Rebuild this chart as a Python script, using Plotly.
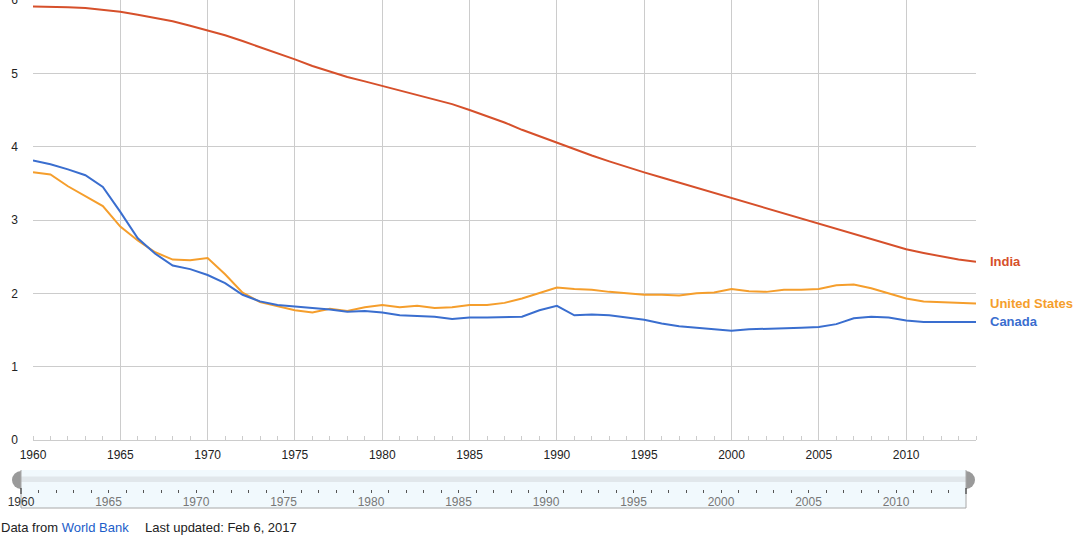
import plotly.graph_objects as go

W, H = 1073, 535

years = list(range(1960, 2015))

india = [5.91, 5.91, 5.90, 5.89, 5.87, 5.84, 5.80, 5.76, 5.71, 5.65,
         5.59, 5.52, 5.44, 5.36, 5.27, 5.19, 5.10, 5.02, 4.95, 4.89,
         4.83, 4.77, 4.71, 4.65, 4.58, 4.50, 4.42, 4.33, 4.23, 4.14,
         4.05, 3.96, 3.88, 3.80, 3.72, 3.65, 3.58, 3.51, 3.44, 3.38,
         3.31, 3.24, 3.17, 3.10, 3.03, 2.96, 2.89, 2.82, 2.74, 2.67,
         2.60, 2.55, 2.50, 2.46, 2.43]

united_states = [3.65, 3.62, 3.46, 3.32, 3.19, 2.91, 2.72, 2.56, 2.46, 2.45,
                 2.48, 2.26, 2.01, 1.88, 1.83, 1.77, 1.74, 1.79, 1.76, 1.81,
                 1.84, 1.81, 1.83, 1.80, 1.81, 1.84, 1.84, 1.87, 1.93, 2.01,
                 2.08, 2.06, 2.05, 2.02, 2.00, 1.98, 1.98, 1.97, 2.00, 2.01,
                 2.06, 2.03, 2.02, 2.05, 2.05, 2.06, 2.11, 2.12, 2.07, 2.00,
                 1.93, 1.89, 1.88, 1.86, 1.86]

canada = [3.81, 3.76, 3.69, 3.61, 3.45, 3.11, 2.75, 2.54, 2.38, 2.33,
          2.25, 2.14, 1.98, 1.89, 1.84, 1.82, 1.80, 1.78, 1.75, 1.76,
          1.74, 1.70, 1.69, 1.68, 1.65, 1.67, 1.67, 1.68, 1.68, 1.77,
          1.83, 1.70, 1.71, 1.70, 1.67, 1.64, 1.59, 1.55, 1.53, 1.51,
          1.49, 1.51, 1.52, 1.53, 1.53, 1.54, 1.58, 1.66, 1.68, 1.67,
          1.63, 1.61, 1.61, 1.61, 1.61]

series_names = ["India", "United States", "Canada"]
series_values = [india, united_states, canada]
series_colors = ["#d6502b", "#f59e2c", "#3a6ecf"]

x_ticks = list(range(1960, 2015, 5))
x_tick_labels = [str(v) for v in x_ticks]
y_ticks = [0, 1, 2, 3, 4, 5, 6]

FONT = "Arial, Liberation Sans, sans-serif"


def px(xp):
    return xp / W


def py(yp):
    return (H - yp) / H


fig = go.Figure()

for name, vals, col in zip(series_names, series_values, series_colors):
    fig.add_trace(go.Scatter(
        x=years, y=vals, mode="lines", name=name,
        line=dict(color=col, width=2),
        hoverinfo="skip", showlegend=False,
        xaxis="x", yaxis="y",
    ))

# empty helper trace so the range-slider-like axis gets its own subplot
fig.add_trace(go.Scatter(
    x=[years[0], years[-1]], y=[0.5, 0.5], mode="none",
    hoverinfo="skip", showlegend=False, xaxis="x2", yaxis="y2",
))

annotations = []
for name, vals, col in zip(series_names, series_values, series_colors):
    annotations.append(dict(
        x=years[-1], y=vals[-1], xref="x", yref="y",
        text="<b>" + name + "</b>", showarrow=False,
        xanchor="left", yanchor="middle", xshift=12,
        font=dict(family=FONT, size=13, color=col),
    ))

annotations.append(dict(
    x=px(-1), y=py(527), xref="paper", yref="paper",
    text="Data from <span style='color:#1b5dc9'>World Bank</span>",
    showarrow=False, xanchor="left", yanchor="middle",
    font=dict(family=FONT, size=13, color="#222222"),
))
annotations.append(dict(
    x=px(143), y=py(527), xref="paper", yref="paper",
    text="Last updated: Feb 6, 2017",
    showarrow=False, xanchor="left", yanchor="middle",
    font=dict(family=FONT, size=13, color="#222222"),
))

shapes = [
    # handles (drawn first; inner halves get covered by the slider background)
    dict(type="circle", xref="paper", yref="paper",
         x0=px(12), x1=px(30), y0=py(489), y1=py(471),
         fillcolor="#9a9a9a", line=dict(width=0), layer="below"),
    dict(type="circle", xref="paper", yref="paper",
         x0=px(957), x1=px(975), y0=py(489), y1=py(471),
         fillcolor="#9a9a9a", line=dict(width=0), layer="below"),
    # slider background
    dict(type="rect", xref="paper", yref="paper",
         x0=px(21), x1=px(966), y0=py(508), y1=py(470),
         fillcolor="#f1f9fd", line=dict(width=0), layer="below"),
    # grey bar
    dict(type="rect", xref="paper", yref="paper",
         x0=px(21), x1=px(966), y0=py(482), y1=py(476.5),
         fillcolor="#e1e7eb", line=dict(width=0), layer="below"),
    # borders
    dict(type="line", xref="paper", yref="paper",
         x0=px(21), x1=px(21), y0=py(508), y1=py(470),
         line=dict(color="#a8a8a8", width=1), layer="below"),
    dict(type="line", xref="paper", yref="paper",
         x0=px(966), x1=px(966), y0=py(508), y1=py(470),
         line=dict(color="#a8a8a8", width=1), layer="below"),
    dict(type="line", xref="paper", yref="paper",
         x0=px(21), x1=px(966), y0=py(508), y1=py(508),
         line=dict(color="#a8a8a8", width=1), layer="below"),
    # dark handle ticks
    dict(type="line", xref="paper", yref="paper",
         x0=px(21), x1=px(21), y0=py(494), y1=py(488),
         line=dict(color="#222222", width=1), layer="above"),
    dict(type="line", xref="paper", yref="paper",
         x0=px(966), x1=px(966), y0=py(494), y1=py(488),
         line=dict(color="#222222", width=1), layer="above"),
]

# slider: one tick per year, labels every five years
slider_tick_vals = years
slider_tick_text = []
for y in years:
    if y == x_ticks[0]:
        slider_tick_text.append("<span style='color:#333333'>%d</span>" % y)
    elif y in x_ticks:
        slider_tick_text.append(str(y))
    else:
        slider_tick_text.append("")

fig.update_layout(
    width=W, height=H, autosize=False,
    margin=dict(l=0, r=0, t=0, b=0, pad=0),
    paper_bgcolor="white", plot_bgcolor="rgba(0,0,0,0)",
    font=dict(family=FONT, size=12, color="#222222"),
    showlegend=False,
    hovermode=False,
    xaxis=dict(
        domain=[px(33), px(976)], anchor="y",
        range=[1960, 2014], tickmode="array", tickvals=x_ticks,
        ticktext=x_tick_labels,
        showgrid=True, gridcolor="#cccccc", gridwidth=1,
        ticks="", showline=True, linecolor="#cccccc", linewidth=1,
        zeroline=False, automargin=False,
        tickfont=dict(family=FONT, size=12, color="#222222"),
        ticklabelstandoff=4, ticklabeloverflow="allow",
        minor=dict(tickmode="linear", dtick=1, tick0=1960, ticks="inside",
                   ticklen=4, tickcolor="#cccccc", showgrid=False),
        fixedrange=True,
    ),
    yaxis=dict(
        domain=[py(440), 1], anchor="x",
        range=[0, 6], tickmode="array", tickvals=y_ticks,
        showgrid=True, gridcolor="#cccccc", gridwidth=1,
        ticks="", showline=False, zeroline=False, automargin=False,
        tickfont=dict(family=FONT, size=12, color="#222222"),
        ticklabelstandoff=14, ticklabeloverflow="allow",
        fixedrange=True,
    ),
    xaxis2=dict(
        domain=[px(21), px(966)], anchor="y2",
        range=[1960, 2014], tickmode="array", tickvals=slider_tick_vals,
        ticktext=slider_tick_text,
        showgrid=False, zeroline=False, showline=False,
        ticks="inside", ticklen=3, tickcolor="#555555", tickwidth=1,
        tickfont=dict(family=FONT, size=12, color="#777777"),
        ticklabelstandoff=0, ticklabeloverflow="allow",
        automargin=False, fixedrange=True, visible=True,
    ),
    yaxis2=dict(
        domain=[py(493), py(471)], anchor="x2",
        range=[0, 1], showgrid=False, zeroline=False, showline=False,
        showticklabels=False, ticks="", fixedrange=True,
    ),
    shapes=shapes,
    annotations=annotations,
)

fig.write_html(
    "out.html",
    config={"displayModeBar": False},
    post_script="document.body.style.margin='0';document.body.style.padding='0';",
)
